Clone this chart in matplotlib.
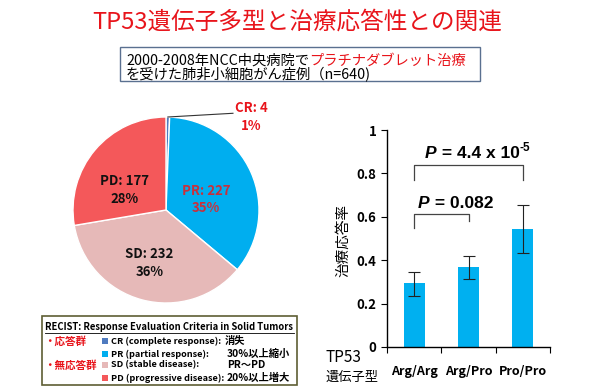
import matplotlib
matplotlib.use("Agg")
import matplotlib.pyplot as plt
from matplotlib.patches import Rectangle

plt.rcParams["font.family"] = ["Noto Sans CJK JP", "DejaVu Sans"]

W, H = 600, 389

# pie data
pie_names = ["CR", "PR", "SD", "PD"]
pie_counts = [4, 227, 232, 177]
pie_pcts = ["1%", "35%", "36%", "28%"]
pie_colors = ["#4f7bbf", "#00aeef", "#e6b9b8", "#f4585a"]

# bar data
genotypes = ["Arg/Arg", "Arg/Pro", "Pro/Pro"]
rates = [0.293, 0.370, 0.542]
err_low = [0.235, 0.312, 0.432]
err_high = [0.347, 0.419, 0.654]
y_ticks = [0, 0.2, 0.4, 0.6, 0.8, 1.0]
y_tick_labels = ["0", "0.2", "0.4", "0.6", "0.8", "1"]

# legend rows
legend_rows = [
    ("CR (complete response):", "消失"),
    ("PR (partial response):", "30%以上縮小"),
    ("SD (stable disease):", "PR～PD"),
    ("PD (progressive disease):", "20%以上増大"),
]


def fx(px):
    return px / W


def fy(py):
    return 1 - py / H


def text_after(fig, prev, py, s, **kw):
    fig.canvas.draw()
    bb = prev.get_window_extent()
    return fig.text(bb.x1 / W, fy(py), s, ha="left", va="center", **kw)


fig = plt.figure(figsize=(6, 3.89), dpi=100)
fig.patch.set_facecolor("white")

fig.text(fx(297), fy(22), "TP53遺伝子多型と治療応答性との関連", color="#e8141b",
         fontsize=17, ha="center", va="center")

fig.patches.append(Rectangle((fx(120), fy(81)), fx(360), 34 / H, transform=fig.transFigure,
                             facecolor="white", edgecolor="#5a7090", linewidth=1.0))
t1 = fig.text(fx(126), fy(61), "2000-2008年NCC中央病院で", fontsize=10.3, ha="left", va="center")
text_after(fig, t1, 61, "プラチナダブレット治療", color="#e8141b", fontsize=10.3)
fig.text(fx(126), fy(75), "を受けた肺非小細胞がん症例（n=640)", fontsize=10.3, ha="left", va="center")

# pie
cx, cy, r = 166, 210, 93
pax = fig.add_axes([fx(cx - r), fy(cy + r), 2 * r / W, 2 * r / H])
pax.pie(pie_counts, colors=pie_colors, startangle=90, counterclock=False,
        wedgeprops={"edgecolor": "white", "linewidth": 1.0})
pax.set_xlim(-1, 1)
pax.set_ylim(-1, 1)
pax.set_aspect("auto")

label_pos = {"PR": (0.43, 0.11), "SD": (-0.18, -0.57), "PD": (-0.45, 0.215)}
label_col = {"PR": "#c8303c", "SD": "#111111", "PD": "#111111"}
for name, n, pct in zip(pie_names, pie_counts, pie_pcts):
    if name == "CR":
        pax.plot([0.02, 0.72], [1.0, 1.04], color="#333333", lw=0.8, clip_on=False)
        pax.text(0.92, 1.0, f"{name}: {n}\n{pct}", color="#e8141b", fontsize=9.5,
                 fontweight="bold", ha="center", va="center", linespacing=1.3)
    else:
        x, y = label_pos[name]
        pax.text(x, y, f"{name}: {n}\n{pct}", color=label_col[name], fontsize=9.5,
                 fontweight="bold", ha="center", va="center", linespacing=1.3)

# legend box
fig.patches.append(Rectangle((fx(42), fy(385)), fx(255), 69 / H, transform=fig.transFigure,
                             facecolor="white", edgecolor="#5e5e34", linewidth=1.2))
fig.text(fx(45), fy(327), "RECIST: Response Evaluation Criteria in Solid Tumors",
         fontsize=6.8, fontweight="bold", ha="left", va="center")
fig.lines.append(plt.Line2D([fx(45), fx(294)], [fy(333), fy(333)], transform=fig.transFigure,
                            color="black", lw=0.6))
fig.text(fx(44), fy(341), "・応答群", color="#e8141b", fontsize=7.6, fontweight="bold",
         ha="left", va="center")
fig.text(fx(44), fy(365), "・無応答群", color="#e8141b", fontsize=7.6, fontweight="bold",
         ha="left", va="center")
for i, (desc, crit) in enumerate(legend_rows):
    ry = [341, 354, 365, 378][i]
    fig.patches.append(Rectangle((fx(102), fy(ry + 3)), 6 / W, 6 / H, transform=fig.transFigure,
                                 facecolor=pie_colors[i], edgecolor="none"))
    fig.text(fx(111), fy(ry), desc, fontsize=6.6, fontweight="bold", ha="left", va="center")
    fig.text(fx(225 if i == 0 else 227), fy(ry), crit, fontsize=7.4, fontweight="bold",
             ha="left", va="center")

# bars
bax = fig.add_axes([fx(387), fy(347), 163 / W, 217 / H])
xs = range(len(genotypes))
yerr = [[v - lo for v, lo in zip(rates, err_low)], [hi - v for v, hi in zip(rates, err_high)]]
bax.bar(xs, rates, width=0.39, color="#00b0f0", yerr=yerr, capsize=4,
        error_kw={"elinewidth": 0.8, "capthick": 0.8, "ecolor": "#222222"})
bax.set_xlim(-0.5, 2.5)
bax.set_ylim(0, 1)
bax.set_yticks(y_ticks)
bax.set_yticklabels(y_tick_labels, fontsize=9.5, fontweight="bold")
bax.set_xticks([-0.5, 0.5, 1.5, 2.5])
bax.set_xticklabels([])
bax.tick_params(axis="x", length=4, width=0.8)
bax.tick_params(axis="y", length=4, width=0.8)
for s in ("top", "right"):
    bax.spines[s].set_visible(False)
for s in ("left", "bottom"):
    bax.spines[s].set_linewidth(1.0)
for i, g in enumerate(genotypes):
    bax.text(i, -0.115, g, fontsize=9, fontweight="bold", ha="center", va="center",
             clip_on=False)

# significance brackets
bax.plot([0, 0, 1, 1], [0.548, 0.611, 0.611, 0.58], color="#444444", lw=0.9)
bax.plot([0, 0, 2, 2], [0.77, 0.839, 0.839, 0.77], color="#444444", lw=0.9)

pfont = {"family": ["Liberation Sans Narrow", "Liberation Sans"], "fontsize": 12.5,
         "fontweight": "bold"}
p1 = fig.text(fx(418), fy(203), "P", style="italic", ha="left", va="center", **pfont)
text_after(fig, p1, 203, " = 0.082", **pfont)
p2 = fig.text(fx(425), fy(153), "P", style="italic", ha="left", va="center", **pfont)
p3 = text_after(fig, p2, 153, " = 4.4 x 10", **pfont)
fig.canvas.draw()
bb = p3.get_window_extent()
fig.text(bb.x1 / W, fy(148), "-5", ha="left", va="center", family=pfont["family"],
         fontsize=8.5, fontweight="bold")

fig.text(fx(343), fy(240), "治療応答率", rotation=90, fontsize=10.5, ha="center", va="center")
fig.text(fx(325), fy(358), "TP53", fontsize=11, ha="left", va="center")
fig.text(fx(325), fy(377), "遺伝子型", fontsize=9.5, ha="left", va="center")

fig.savefig("out.png", dpi=100)
